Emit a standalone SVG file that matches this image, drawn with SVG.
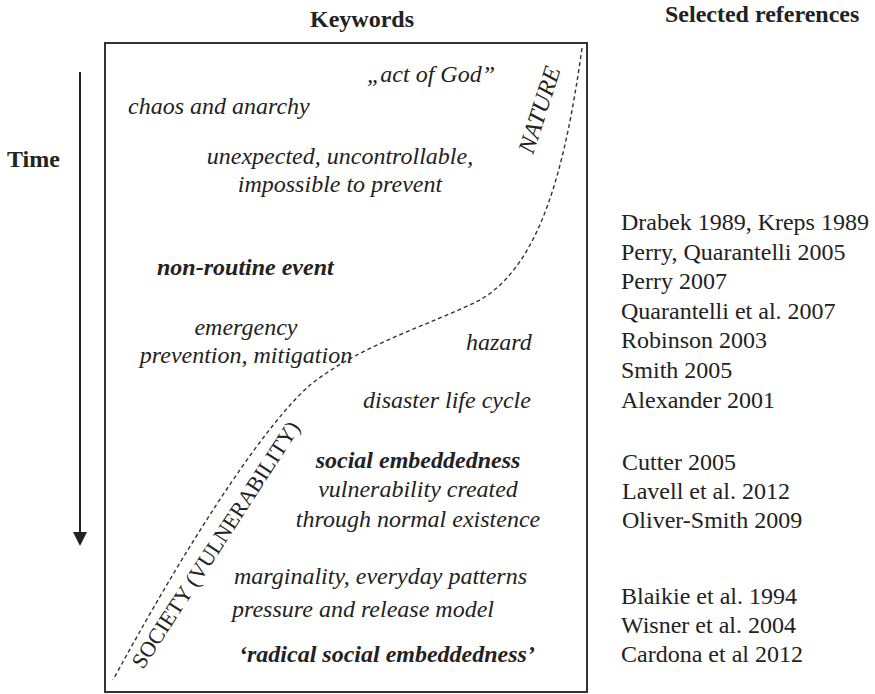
<svg xmlns="http://www.w3.org/2000/svg" width="875" height="694" viewBox="0 0 875 694">
<style>
text{font-family:"Liberation Serif","Times New Roman",serif;font-size:24px;fill:#222}
.h{font-weight:bold}
.i{font-style:italic}
.bi{font-style:italic;font-weight:bold}
.m{text-anchor:middle}
.curve{fill:none;stroke:#333;stroke-width:1.4;stroke-dasharray:4 3}
</style>
<rect x="0" y="0" width="875" height="694" fill="#fff"/>
<g id="headers">
<text class="h" x="310" y="27">Keywords</text>
<text class="h" x="665" y="22">Selected references</text>
<text class="h" x="7" y="167">Time</text>
</g>
<g id="time-axis">
<line x1="80" y1="72" x2="80" y2="533" stroke="#222" stroke-width="2"/>
<polygon points="73,532 87,532 80,546" fill="#222"/>
</g>
<g id="keywords-box">
<rect x="105" y="43" width="482" height="649" fill="none" stroke="#333" stroke-width="2"/>
</g>
<g id="connectors">
<path class="curve" d="M582,48 C565,170 540,265 480,300 C430,325 360,345 310,385 C270,420 200,520 113,680"/>
</g>
<g id="curve-labels">
<text class="i" x="533" y="155" transform="rotate(-72 533 155)">NATURE</text>
<text x="143" y="670" style="font-size:22px" transform="rotate(-57 143 670)">SOCIETY (VULNERABILITY)</text>
</g>
<g id="keywords">
<text class="i" x="367" y="82">„act of God”</text>
<text class="i" x="128" y="114">chaos and anarchy</text>
<text class="i m" x="340" y="164">unexpected, uncontrollable,</text>
<text class="i m" x="340" y="192">impossible to prevent</text>
<text class="bi" x="157" y="275">non-routine event</text>
<text class="i m" x="246" y="335">emergency</text>
<text class="i m" x="246" y="363">prevention, mitigation</text>
<text class="i" x="466" y="350">hazard</text>
<text class="i" x="363" y="408">disaster life cycle</text>
<text class="bi m" x="418" y="468">social embeddedness</text>
<text class="i m" x="418" y="497">vulnerability created</text>
<text class="i m" x="418" y="527">through normal existence</text>
<text class="i" x="234" y="584">marginality, everyday patterns</text>
<text class="i" x="232" y="617">pressure and release model</text>
<text class="bi" x="239" y="662">‘radical social embeddedness’</text>
</g>
<g id="references">
<text x="621" y="230">Drabek 1989, Kreps 1989</text>
<text x="621" y="260">Perry, Quarantelli 2005</text>
<text x="621" y="289">Perry 2007</text>
<text x="621" y="319">Quarantelli et al. 2007</text>
<text x="621" y="348">Robinson 2003</text>
<text x="621" y="378">Smith 2005</text>
<text x="621" y="408">Alexander 2001</text>
<text x="622" y="470">Cutter 2005</text>
<text x="622" y="499">Lavell et al. 2012</text>
<text x="622" y="528">Oliver-Smith 2009</text>
<text x="621" y="604">Blaikie et al. 1994</text>
<text x="621" y="633">Wisner et al. 2004</text>
<text x="621" y="662">Cardona et al 2012</text>
</g>
</svg>
